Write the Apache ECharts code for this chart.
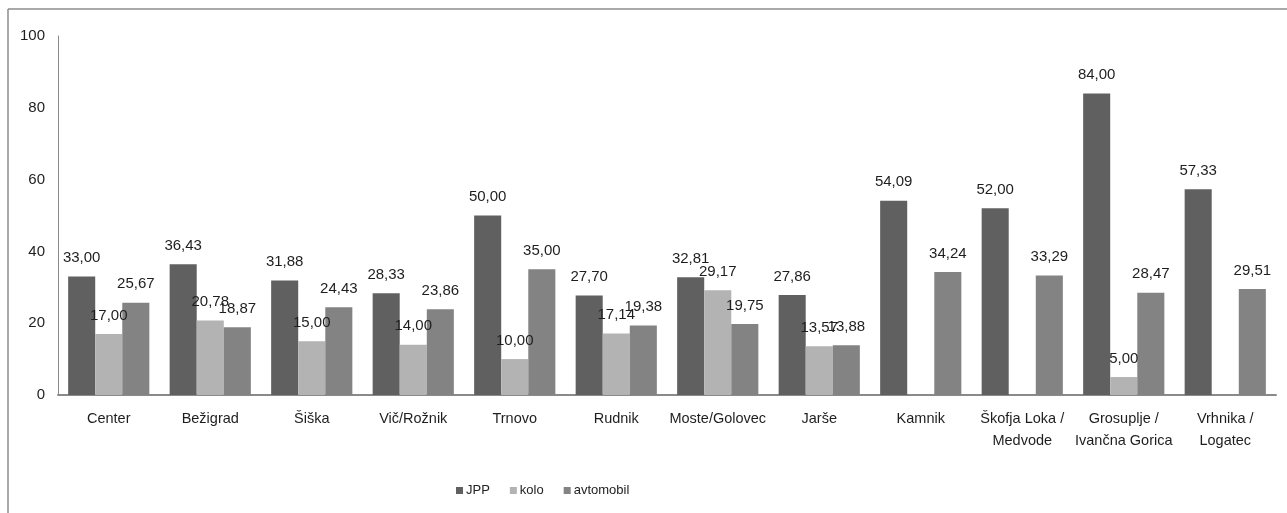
<!DOCTYPE html>
<html>
<head>
<meta charset="utf-8">
<script src="https://cdn.jsdelivr.net/npm/echarts@6/dist/echarts.min.js"></script>
<style>
  html, body { margin: 0; padding: 0; background: #fff; }
  #chart { width: 1287px; height: 513px; }
</style>
</head>
<body>
<div id="chart"></div>
<script>
// Districts / municipalities
const categories = [
  'Center', 'Bežigrad', 'Šiška', 'Vič/Rožnik', 'Trnovo', 'Rudnik',
  'Moste/Golovec', 'Jarše', 'Kamnik', 'Škofja Loka /\nMedvode',
  'Grosuplje /\nIvančna Gorica', 'Vrhnika /\nLogatec'
];
const seriesNames = ['JPP', 'kolo', 'avtomobil'];
const jpp = [33.00, 36.43, 31.88, 28.33, 50.00, 27.70, 32.81, 27.86, 54.09, 52.00, 84.00, 57.33];
const kolo = [17.00, 20.78, 15.00, 14.00, 10.00, 17.14, 29.17, 13.57, null, null, 5.00, null];
const avtomobil = [25.67, 18.87, 24.43, 23.86, 35.00, 19.38, 19.75, 13.88, 34.24, 33.29, 28.47, 29.51];
const yTicks = [0, 20, 40, 60, 80, 100];

const FONT = "'Liberation Sans Narrow', 'Arial Narrow', 'Liberation Sans', Arial, sans-serif";
const colors = ['#606060', '#b3b3b3', '#838383'];

const fmt = v => (v.value == null ? '' : v.value.toFixed(2).replace('.', ','));

function barSeries(name, data, color) {
  return {
    name: name,
    type: 'bar',
    data: data,
    barGap: '0%',
    barCategoryGap: '20%',
    itemStyle: { color: color },
    label: {
      show: true,
      position: 'top',
      distance: 11,
      formatter: fmt,
      fontFamily: FONT,
      fontSize: 15,
      color: '#1e1e1e'
    },
    emphasis: { disabled: true }
  };
}

const chart = echarts.init(document.getElementById('chart'), null, { renderer: 'canvas' });
chart.setOption({
  animation: false,
  backgroundColor: '#ffffff',
  color: colors,
  grid: { left: 58, right: 11, top: 36, bottom: 118, containLabel: false },
  legend: {
    data: seriesNames,
    left: 451,
    top: 479,
    icon: 'rect',
    itemWidth: 7,
    itemHeight: 7,
    itemGap: 20,
    textStyle: { fontFamily: FONT, fontSize: 13, color: '#222', padding: [0, 0, 0, -2] }
  },
  xAxis: {
    type: 'category',
    data: categories,
    axisLine: { lineStyle: { color: '#8a8a8a', width: 2 } },
    axisTick: { show: false },
    axisLabel: {
      interval: 0,
      margin: 13,
      fontFamily: FONT,
      fontSize: 14.5,
      lineHeight: 22,
      color: '#1e1e1e'
    }
  },
  yAxis: {
    type: 'value',
    min: yTicks[0],
    max: yTicks[yTicks.length - 1],
    interval: yTicks[1] - yTicks[0],
    splitLine: { show: false },
    axisLine: { show: true, lineStyle: { color: '#8a8a8a', width: 1 } },
    axisTick: { show: false },
    axisLabel: {
      margin: 13,
      fontFamily: FONT,
      fontSize: 15,
      color: '#1e1e1e'
    }
  },
  graphic: [
    { type: 'line', shape: { x1: 8, y1: 9, x2: 1287, y2: 9 }, style: { stroke: '#8c8c8c', lineWidth: 1.5 } },
    { type: 'line', shape: { x1: 8, y1: 9, x2: 8, y2: 513 }, style: { stroke: '#8c8c8c', lineWidth: 1.5 } }
  ],
  series: [
    barSeries(seriesNames[0], jpp, colors[0]),
    barSeries(seriesNames[1], kolo, colors[1]),
    barSeries(seriesNames[2], avtomobil, colors[2])
  ]
});
</script>
</body>
</html>
